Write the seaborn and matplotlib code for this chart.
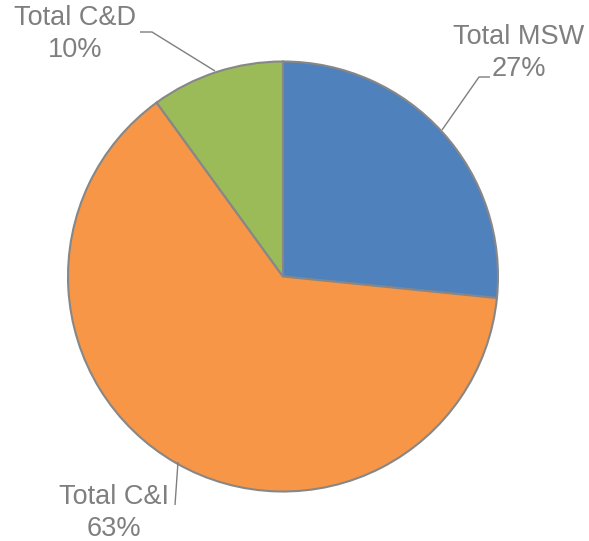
import matplotlib
matplotlib.use("Agg")
import matplotlib.pyplot as plt
import seaborn as sns

categories = ["Total MSW", "Total C&I", "Total C&D"]
shares = [26.6, 63.4, 10.0]
colors = ["#4F81BD", "#F79646", "#9BBB59"]

sns.set_theme(style="white")
plt.rcParams['font.family'] = ['Liberation Sans', 'DejaVu Sans']

W, H = 589, 541
fig = plt.figure(figsize=(W / 100, H / 100), dpi=100)
ax = fig.add_axes([0, 0, 1, 1])

def Y(py):
    return H - py

cx, cy, r = 283, 276.5, 215
ax.pie(shares, colors=colors, startangle=90, counterclock=False,
       center=(cx, Y(cy)), radius=r,
       wedgeprops=dict(edgecolor="#878787", linewidth=1.5))

ax.set_xlim(0, W)
ax.set_ylim(0, H)
ax.set_aspect("equal")
ax.axis("off")

tc = "#7F7F7F"
fs = 19.5
total = sum(shares)
label_pos = {
    "Total MSW": (519, 53.5),
    "Total C&I": (114, 513.5),
    "Total C&D": (75, 34),
}
for cat, val in zip(categories, shares):
    x, y = label_pos[cat]
    pct = round(val / total * 100)
    ax.text(x, Y(y), f"{cat}\n{pct}%", ha="center", va="center",
            fontsize=fs, color=tc, linespacing=1.3)

leaders = [
    [(490, 77), (479, 77), (442, 130)],
    [(140, 32), (152, 32), (215, 71)],
    [(178, 462), (175, 505)],
]
for pts in leaders:
    ax.plot([p[0] for p in pts], [Y(p[1]) for p in pts], color=tc, lw=1.0,
            solid_capstyle="butt")

fig.savefig("out.png", dpi=100, facecolor="white")
